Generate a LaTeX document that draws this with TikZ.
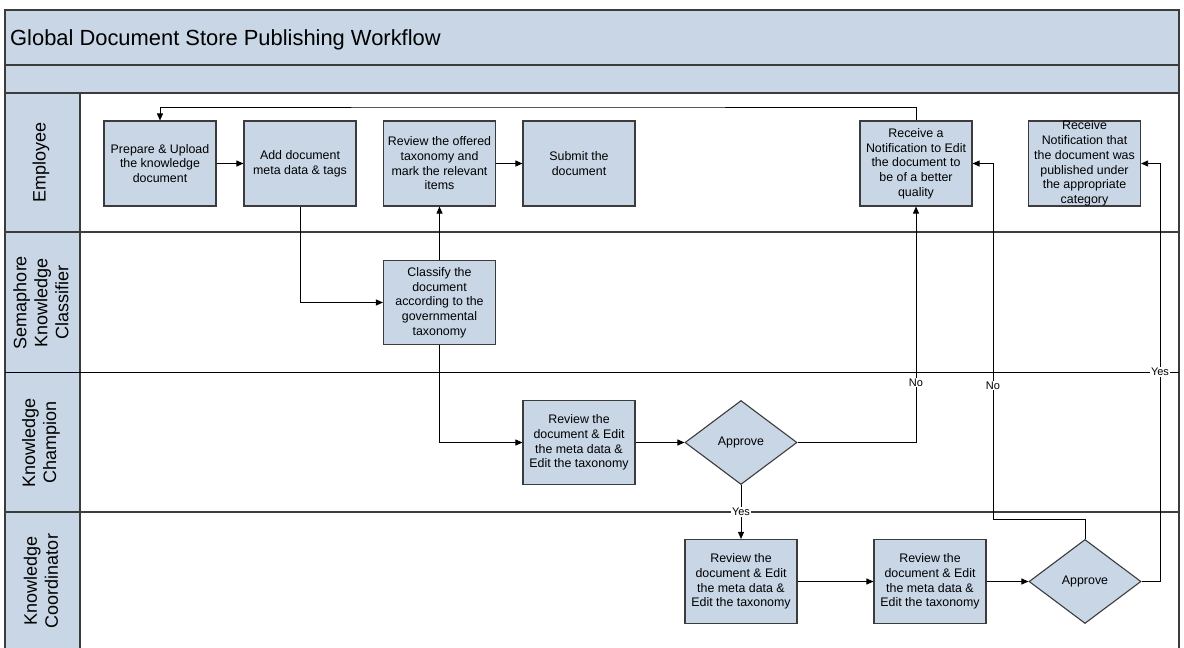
\documentclass[tikz,border=0pt]{standalone}
\usepackage{fontspec}
\setmainfont{Liberation Sans}
\usetikzlibrary{shapes.geometric,arrows.meta}
\definecolor{lanefill}{RGB}{200,214,230}
\definecolor{edgegray}{RGB}{60,60,60}
\begin{document}
\begin{tikzpicture}[x=1pt,y=-1pt,
 proc/.style={draw=edgegray, line width=1.1pt, fill=lanefill, minimum width=112pt, minimum height=84pt, inner sep=0pt, align=center, font=\fontsize{12.4}{14.7}\selectfont},
 dec/.style={diamond, draw=edgegray, line width=1.1pt, fill=lanefill, minimum width=112pt, minimum height=84pt, inner sep=0pt, font=\fontsize{12.4}{14.7}\selectfont},
 flow/.style={draw=black, line width=0.8pt, -{Triangle[length=7pt,width=6pt]}},
 plain/.style={draw=black, line width=0.8pt},
 lab/.style={fill=white, inner sep=1pt, font=\fontsize{11}{13}\selectfont},
 lanelab/.style={rotate=90, align=center, font=\fontsize{18}{21}\selectfont},
 sep/.style={draw=edgegray, line width=1.5pt}]
\useasboundingbox (0,0) rectangle (1184,648);
\clip (0,0) rectangle (1184,648);
% background
\fill[lanefill] (5,10) rectangle (1179,93);
\fill[lanefill] (5,93) rectangle (80,660);
\draw[sep] (5,10) rectangle (1179,660);
\draw[sep] (5,65) -- (1179,65);
\draw[sep] (5,93) -- (1179,93);
\draw[sep] (80,93) -- (80,660);
\draw[sep] (5,232) -- (1179,232);
\draw[draw=black, line width=1pt] (5,372) -- (1179,372);
\draw[sep] (5,512) -- (1179,512);
% title
\node[anchor=base west, inner sep=0pt, font=\fontsize{21.9}{26}\selectfont] (title) at (10,45) {Global Document Store Publishing Workflow};
% lane labels
\node[lanelab] (l1) at (41,162.5) {Employee};
\node[lanelab] (l2) at (41,302.5) {Semaphore\\Knowledge\\Classifier};
\node[lanelab] (l3) at (41,442.5) {Knowledge\\Champion};
\node[lanelab] (l4) at (41,581) {Knowledge\\Coordinator};
% process nodes
\node[proc, minimum height=85pt] (n1) at (160,163.5) {Prepare \& Upload\\the knowledge\\document};
\node[proc, minimum height=85pt] (n2) at (300,163.5) {Add document\\meta data \& tags};
\node[proc, minimum height=85pt] (n3) at (439.5,163.5) {Review the offered\\taxonomy and\\mark the relevant\\items};
\node[proc, minimum height=85pt] (n4) at (579,163.5) {Submit the\\document};
\node[proc, minimum height=85pt] (n5) at (916,163.5) {Receive a\\Notification to Edit\\the document to\\be of a better\\quality};
\node[proc, minimum height=85pt] (n6) at (1084.5,163.5) {Receive\\Notification that\\the document was\\published under\\the appropriate\\category};
\node[proc] (c1) at (439.5,302.5) {Classify the\\document\\according to the\\governmental\\taxonomy};
\node[proc] (r1) at (579,442.5) {Review the\\document \& Edit\\the meta data \&\\Edit the taxonomy};
\node[dec] (d1) at (741,442.5) {Approve};
\node[proc] (r2) at (741,581.5) {Review the\\document \& Edit\\the meta data \&\\Edit the taxonomy};
\node[proc] (r3) at (930,581.5) {Review the\\document \& Edit\\the meta data \&\\Edit the taxonomy};
\node[dec] (d2) at (1085,581.5) {Approve};
% helper coordinates
\coordinate (k1) at (993,519);
\coordinate (k2) at (1160,581.5);
\coordinate (k3) at (538,107);
% connectors
\draw[flow] (n1.east) -- (n2.west);
\draw[flow] (n2.south) |- (c1.west);
\draw[flow] (c1.north) -- (n3.south);
\draw[flow] (n3.east) -- (n4.west);
\draw[flow] (c1.south) |- (r1.west);
\draw[flow] (r1.east) -- (d1.west);
\draw[flow] (d1.east) -| (n5.south);
\draw[flow] (d1.south) -- (r2.north);
\draw[flow] (r2.east) -- (r3.west);
\draw[flow] (r3.east) -- (d2.west);
\draw[flow] (d2.north) |- (k1) |- (n5.east);
\draw[flow] (d2.east) -- (k2) |- (n6.east);
\draw[flow] (n5.north) |- (k3) -| (n1.north);
% labels
\node[lab] (no1) at (916,382.5) {No};
\node[lab] (no2) at (993,385.5) {No};
\node[lab] (yes1) at (741,512) {Yes};
\node[lab] (yes2) at (1160,372) {Yes};
\end{tikzpicture}
\end{document}
